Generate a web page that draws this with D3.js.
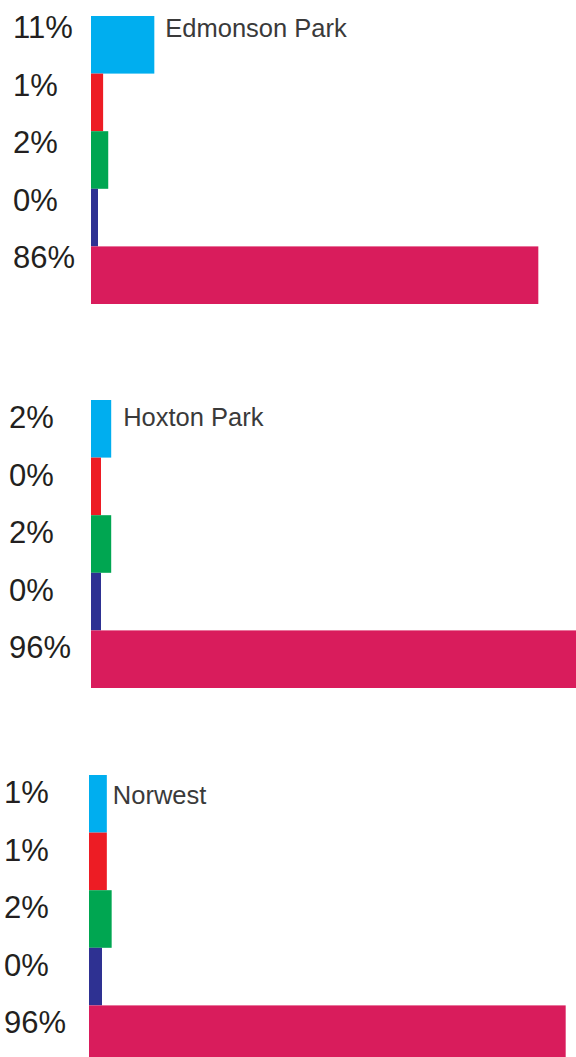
<!DOCTYPE html>
<html>
<head>
<meta charset="utf-8">
<script src="https://cdn.jsdelivr.net/npm/d3@7"></script>
<style>
  html, body { margin: 0; padding: 0; background: #fff; }
  svg { display: block; }
</style>
</head>
<body>
<svg id="chart" width="576" height="1057"></svg>
<script>
// Five response groups, shared by every site panel
const categories = ["g1", "g2", "g3", "g4", "g5"];
const colors = ["#00aeef", "#ed1c24", "#00a651", "#2e3192", "#d91c5c"];

// Site names
const sites = ["Edmonson Park", "Hoxton Park", "Norwest"];

// Share of each group per site (%)
const edmonsonPark = [11, 1, 2, 0, 86];
const hoxtonPark = [2, 0, 2, 0, 96];
const norwest = [1, 1, 2, 0, 96];

// Panel layout
const panels = [
  { name: sites[0], values: edmonsonPark, top: 16,  left: 91, stub: 7,  perPct: 5.12, labelX: 13, labelDy: 22, titleDx: 11, titleDy: 21 },
  { name: sites[1], values: hoxtonPark,   top: 400, left: 91, stub: 10, perPct: 5.10, labelX: 9,  labelDy: 28, titleDx: 12, titleDy: 26 },
  { name: sites[2], values: norwest,      top: 775, left: 89, stub: 13, perPct: 4.83, labelX: 4,  labelDy: 28, titleDx: 6,  titleDy: 29 }
];
const panelHeight = 288;

const svg = d3.select("#chart");
const color = d3.scaleOrdinal().domain(categories).range(colors);

panels.forEach(p => {
  const g = svg.append("g");
  // bar length: a small stub so zero values stay visible, then linear in percent
  const x = d3.scaleLinear().domain([0, 100]).range([p.stub, p.stub + p.perPct * 100]);
  const y = d3.scaleBand().domain(categories).range([p.top, p.top + panelHeight]).padding(0);
  const rows = categories.map((c, i) => ({ cat: c, value: p.values[i] }));

  g.selectAll("rect")
    .data(rows)
    .join("rect")
    .attr("x", p.left)
    .attr("y", d => y(d.cat))
    .attr("width", d => x(d.value))
    .attr("height", y.bandwidth())
    .attr("fill", d => color(d.cat));

  g.selectAll("text.pct")
    .data(rows)
    .join("text")
    .attr("class", "pct")
    .attr("x", p.labelX)
    .attr("y", d => y(d.cat) + p.labelDy)
    .attr("font-family", "'Liberation Sans', Arial, sans-serif")
    .attr("font-size", 31)
    .attr("fill", "#231f20")
    .text(d => d.value + "%");

  g.append("text")
    .attr("x", p.left + x(p.values[0]) + p.titleDx)
    .attr("y", p.top + p.titleDy)
    .attr("font-family", "'Liberation Sans', Arial, sans-serif")
    .attr("font-size", 25.5)
    .attr("fill", "#3a3a3a")
    .text(p.name);
});
</script>
</body>
</html>
